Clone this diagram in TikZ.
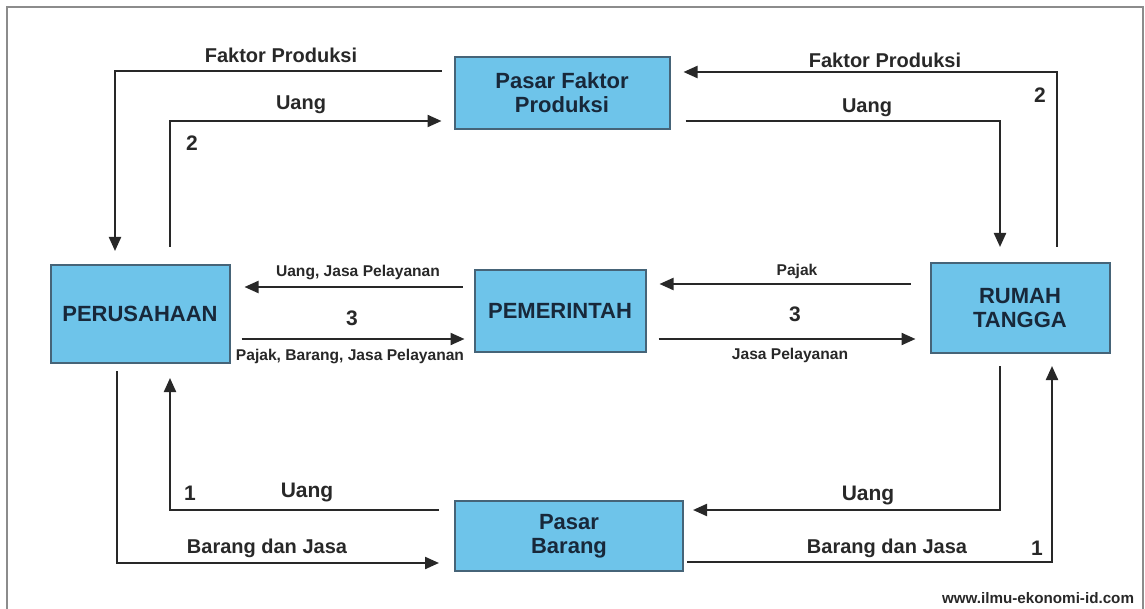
\documentclass[tikz,border=0pt]{standalone}
\usepackage{fontspec}
\setmainfont{Liberation Sans}
\usetikzlibrary{arrows.meta,calc}

\definecolor{boxfill}{RGB}{110,196,234}
\definecolor{boxline}{RGB}{70,100,120}
\definecolor{boxtext}{RGB}{24,40,58}
\definecolor{flowline}{RGB}{40,40,40}
\definecolor{frameline}{RGB}{140,140,140}

\begin{document}
\begin{tikzpicture}[x=0.5pt, y=-0.5pt]
\tikzstyle{sector}=[rectangle, draw=boxline, line width=1pt, fill=boxfill, text=boxtext, align=center, font=\fontsize{11}{12}\selectfont\bfseries]
\tikzstyle{flow}=[line width=1.1pt, draw=flowline, -{Triangle[length=7pt,width=6pt]}]
\tikzstyle{lbl}=[text=flowline, inner sep=0pt, font=\fontsize{10}{12}\selectfont\bfseries]
\tikzstyle{lbls}=[text=flowline, inner sep=0pt, font=\fontsize{7.8}{9}\selectfont\bfseries]
\tikzstyle{num}=[text=flowline, inner sep=0pt, font=\fontsize{10.5}{12}\selectfont\bfseries]

\useasboundingbox (0,0) rectangle (1145,609);
\draw[frameline, line width=0.8pt] (7,612) -- (7,7) -- (1143,7) -- (1143,612);

\node[sector, minimum width=107.5pt, minimum height=36pt] (Pfp) at (562,93) {Pasar Faktor\\Produksi};
\node[sector, minimum width=89.5pt, minimum height=49pt] (Prs) at (140,314) {PERUSAHAAN};
\node[sector, minimum width=85.5pt, minimum height=41pt] (Pmr) at (560,311) {PEMERINTAH};
\node[sector, minimum width=89.5pt, minimum height=45pt] (Rt) at (1020,308) {RUMAH\\TANGGA};
\node[sector, minimum width=114pt, minimum height=35pt] (Pb) at (569,536) {Pasar\\Barang};

% pasar faktor produksi
\draw[flow] ($(Pfp.west)+(-12,-22)$) -| ($(Prs.north)+(-25,-13)$);
\draw[flow] ($(Prs.north)+(30,-17)$) |- ($(Pfp.west)+(-12,28)$);
\draw[flow] ($(Rt.north)+(37,-15)$) |- ($(Pfp.east)+(13,-21)$);
\draw[flow] ($(Pfp.east)+(15,28)$) -| ($(Rt.north)+(-20,-15)$);
\node[lbl] (L1) at (281,55) {Faktor Produksi};
\node[lbl] (L2) at (301,105) {Uang};
\node[num] (N1) at (192,143) {2};
\node[lbl] (L3) at (885,60) {Faktor Produksi};
\node[lbl] (L4) at (867,108) {Uang};
\node[num] (N2) at (1040,95) {2};

% pemerintah
\draw[flow] ($(Pmr.west)+(-11,-24)$) -- ($(Prs.east)+(14,-27)$);
\draw[flow] ($(Prs.east)+(11,25)$) -- ($(Pmr.west)+(-9,28)$);
\draw[flow] ($(Rt.west)+(-19,-24)$) -- ($(Pmr.east)+(13,-27)$);
\draw[flow] ($(Pmr.east)+(12,28)$) -- ($(Rt.west)+(-14,31)$);
\node[lbls] (L5) at (358,273) {Uang, Jasa Pelayanan};
\node[num] (N3) at (352,318) {3};
\node[lbls] (L6) at (350,357) {Pajak, Barang, Jasa Pelayanan};
\node[lbls] (L7) at (797,271) {Pajak};
\node[num] (N4) at (795,314) {3};
\node[lbls] (L8) at (790,355) {Jasa Pelayanan};

% pasar barang
\draw[flow] ($(Prs.south)+(-23,7)$) |- ($(Pb.west)+(-15,27)$);
\draw[flow] ($(Pb.west)+(-15,-26)$) -| ($(Prs.south)+(30,14)$);
\draw[flow] ($(Rt.south)+(-20,12)$) |- ($(Pb.east)+(9,-26)$);
\draw[flow] ($(Pb.east)+(3,26)$) -| ($(Rt.south)+(32,12)$);
\node[num] (N5) at (190,493) {1};
\node[lbl, font=\fontsize{10.5}{12}\selectfont\bfseries] (L9) at (307,492) {Uang};
\node[lbl] (L10) at (267,548) {Barang dan Jasa};
\node[lbl, font=\fontsize{10.5}{12}\selectfont\bfseries] (L11) at (868,495) {Uang};
\node[lbl] (L12) at (887,548) {Barang dan Jasa};
\node[num] (N6) at (1037,548) {1};

\node[lbls, font=\fontsize{7.6}{9}\selectfont\bfseries] (Web) at (1038,598) {www.ilmu-ekonomi-id.com};
\end{tikzpicture}
\end{document}
